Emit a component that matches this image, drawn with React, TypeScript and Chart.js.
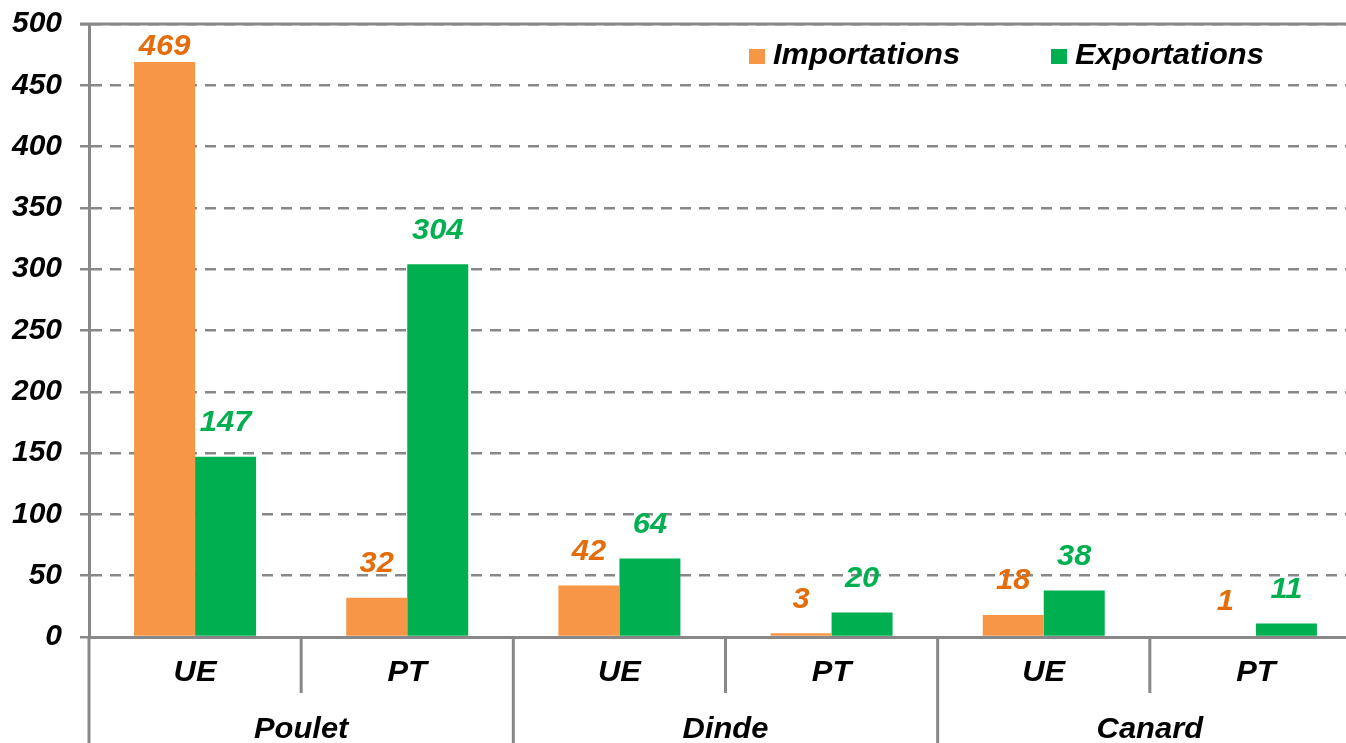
import React, { useEffect, useRef } from "react";
import { Chart, registerables } from "chart.js";

Chart.register(...registerables);

const categories = ["UE", "PT", "UE", "PT", "UE", "PT"];
const groups = ["Poulet", "Dinde", "Canard"];
const importations = [469, 32, 42, 3, 18, 1];
const exportations = [147, 304, 64, 20, 38, 11];
const seriesLabels = ["Importations", "Exportations"];
const yTicksMin = 0;
const yTicksMax = 500;
const yTicksStep = 50;

const FONT = '"Liberation Sans", Arial, sans-serif';
const BAR_COLORS = ["#F79646", "#00B050"];
const LABEL_COLORS = ["#E46C0A", "#00B050"];
const GRID = "#888888";

const W = 1370;
const H = 743;
const SX = 1.03;

function drawText(ctx: CanvasRenderingContext2D, text: string, x: number, y: number) {
  ctx.save();
  ctx.translate(x, y);
  ctx.scale(SX, 1);
  ctx.fillText(text, 0, 0);
  ctx.restore();
}

export default function App() {
  const ref = useRef<HTMLCanvasElement | null>(null);

  useEffect(() => {
    const canvas = ref.current;
    if (!canvas) return;

    const overlay = {
      id: "overlay",
      beforeDatasetsDraw(chart: any) {
        const { ctx, chartArea, scales } = chart;
        const y = scales.y;
        const yTop = y.getPixelForValue(yTicksMax);
        ctx.save();
        ctx.strokeStyle = GRID;
        ctx.lineWidth = 3;
        ctx.setLineDash([]);
        ctx.beginPath();
        ctx.moveTo(chartArea.left - 9, yTop);
        ctx.lineTo(chartArea.right, yTop);
        ctx.stroke();
        ctx.restore();
      },
      afterDraw(chart: any) {
        const { ctx, chartArea, scales } = chart;
        const x = scales.x;
        ctx.save();
        ctx.font = `italic bold 30px ${FONT}`;
        ctx.textAlign = "center";
        ctx.textBaseline = "middle";

        // data labels
        chart.data.datasets.forEach((ds: any, i: number) => {
          const meta = chart.getDatasetMeta(i);
          meta.data.forEach((bar: any, j: number) => {
            const cy = Math.max(bar.y - 34, chartArea.top + 23);
            ctx.fillStyle = LABEL_COLORS[i];
            drawText(ctx, String(ds.data[j]), bar.x, cy);
          });
        });

        // x axis category labels and separators
        const bottom = chartArea.bottom;
        const pos = categories.map((_, j) => x.getPixelForValue(j));
        const half = categories.length > 1 ? (pos[1] - pos[0]) / 2 : 0;
        ctx.fillStyle = "#000";
        categories.forEach((c, j) => {
          drawText(ctx, c, pos[j], 673);
        });
        ctx.strokeStyle = GRID;
        ctx.lineWidth = 3;
        ctx.beginPath();
        ctx.moveTo(chartArea.left, bottom);
        ctx.lineTo(chartArea.left, H);
        ctx.stroke();
        for (let j = 0; j < categories.length; j++) {
          const bx = pos[j] + half;
          const groupEnd = j % 2 === 1;
          ctx.beginPath();
          ctx.moveTo(bx, bottom);
          ctx.lineTo(bx, groupEnd ? H : 693);
          ctx.stroke();
        }
        // group labels
        ctx.textBaseline = "alphabetic";
        groups.forEach((g, k) => {
          const gx = (pos[2 * k] + pos[2 * k + 1]) / 2;
          drawText(ctx, g, gx, 738);
        });

        // legend
        ctx.textAlign = "left";
        ctx.textBaseline = "alphabetic";
        const legendX = [749, 1051];
        seriesLabels.forEach((lab, i) => {
          ctx.fillStyle = BAR_COLORS[i];
          ctx.fillRect(legendX[i], 49, 16, 15);
          ctx.fillStyle = "#000";
          drawText(ctx, lab, legendX[i] + 24, 64);
        });
        ctx.restore();
      },
    };

    const chart = new Chart(canvas, {
      type: "bar",
      data: {
        labels: categories,
        datasets: [
          {
            label: seriesLabels[0],
            data: importations,
            backgroundColor: BAR_COLORS[0],
            categoryPercentage: 0.575,
            barPercentage: 1,
          },
          {
            label: seriesLabels[1],
            data: exportations,
            backgroundColor: BAR_COLORS[1],
            categoryPercentage: 0.575,
            barPercentage: 1,
          },
        ],
      },
      options: {
        responsive: false,
        animation: false,
        devicePixelRatio: 1,
        layout: { padding: { left: 0, top: 24, right: W - 1362, bottom: 0 } },
        plugins: {
          legend: { display: false },
          tooltip: { enabled: false },
          title: { display: false },
        },
        scales: {
          x: {
            offset: true,
            grid: { display: false },
            ticks: { display: false },
            border: { display: true, color: GRID, width: 3, z: 1 },
            afterFit: (s: any) => {
              s.height = H - 637;
              s.paddingLeft = 0;
              s.paddingRight = 0;
            },
          },
          y: {
            min: yTicksMin,
            max: yTicksMax,
            ticks: {
              stepSize: yTicksStep,
              color: "#000",
              padding: 18,
              font: { family: FONT, size: 30, weight: "bold", style: "italic" },
            },
            grid: {
              color: GRID,
              lineWidth: 2.5,
              tickLength: 9,
              tickColor: GRID,
              tickWidth: 2.5,
            },
            border: { display: true, color: GRID, width: 3, dash: [11, 8] },
            afterFit: (s: any) => {
              s.width = 89;
              s.paddingTop = 0;
              s.paddingBottom = 0;
            },
          },
        },
      },
      plugins: [overlay],
    } as any);

    return () => chart.destroy();
  }, []);

  return (
    <div
      style={{
        position: "absolute",
        left: 0,
        top: 0,
        width: 1346,
        height: 743,
        overflow: "hidden",
        background: "#fff",
      }}
    >
      <canvas ref={ref} width={W} height={H} style={{ width: W, height: H, display: "block" }} />
    </div>
  );
}
